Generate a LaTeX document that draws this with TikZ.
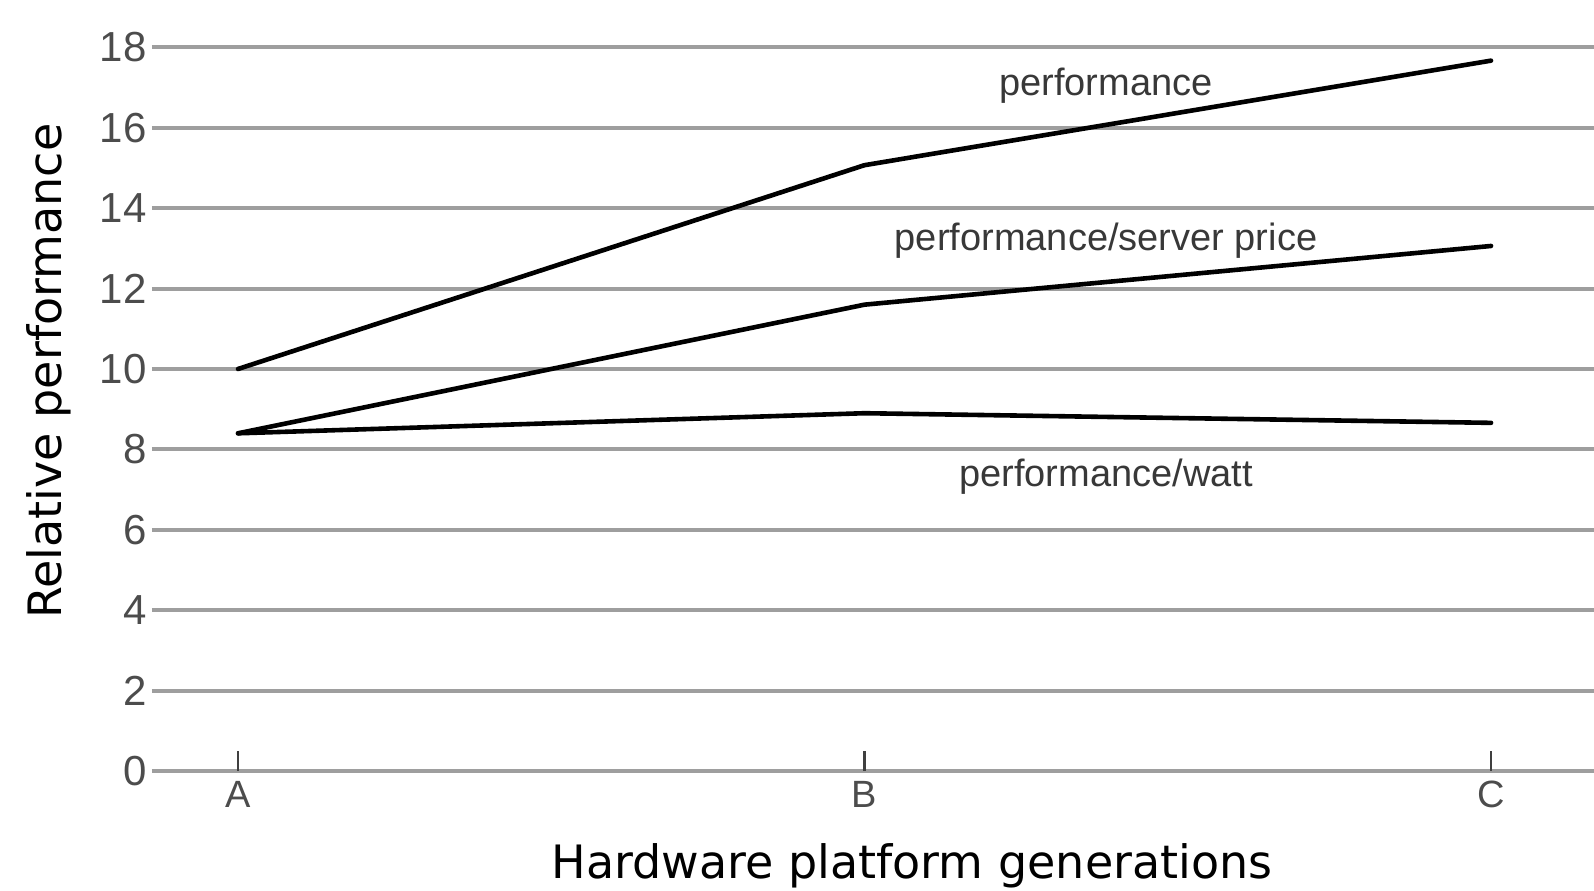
\documentclass[tikz,border=0pt]{standalone}
\usepackage{fontspec}
\setmainfont{Liberation Sans}
\newfontfamily\achsenfont{DejaVu Sans}
\usetikzlibrary{positioning}

\begin{document}
\begin{tikzpicture}[x=313.25pt,y=20.1pt,
  gitter/.style={line width=2pt,black!38},
  kurve/.style={line width=2.3pt,black,line join=round,line cap=round},
  zahl/.style={font=\fontsize{21}{21}\selectfont,text=black!70,inner sep=0pt},
  strich/.style={line width=1.2pt,black!75},
  beschr/.style={font=\fontsize{19}{19}\selectfont,text=black!78,inner sep=0pt},
  titel/.style={font=\achsenfont\fontsize{23}{23}\selectfont,inner sep=0pt}]
%Rand wie im Original
  \useasboundingbox (-0.3799,-2.985) rectangle (2.1644,19.179);
  \pgfmathsetmacro{\links}{-0.1373}
  \pgfmathsetmacro{\rechts}{2.1644}
%Gitter mit Zahlen
\foreach \v in {0,2,...,18}{
  \draw[gitter] (\links,\v) -- (\rechts,\v);
  \node[zahl,anchor=east] (y\v) at (-0.1452,\v) {\v};
}
\foreach \g/\i in {A/0,B/1,C/2}{
  \draw[strich] (\i,0) -- (\i,0.5);
  \node[zahl,font=\fontsize{19}{19}\selectfont,anchor=north] (x\g) at (\i,-0.25) {\g};
}
%Messwerte
\coordinate (perfA) at (0,10);
\coordinate (perfB) at (1,15.07);
\coordinate (perfC) at (2,17.67);
\coordinate (preisA) at (0,8.4);
\coordinate (preisB) at (1,11.6);
\coordinate (preisC) at (2,13.06);
\coordinate (wattA) at (0,8.4);
\coordinate (wattB) at (1,8.9);
\coordinate (wattC) at (2,8.66);
\draw[kurve] (perfA) -- (perfB) -- (perfC);
\draw[kurve] (preisA) -- (preisB) -- (preisC);
\draw[kurve] (wattA) -- (wattB) -- (wattC);
\node[beschr] (lperf) at (1.3855,17.05) {performance};
\node[beschr] (lpreis) at (1.3855,13.18) {performance/server price};
\node[beschr] (lwatt) at (1.3855,7.31) {performance/watt};
\node[titel,rotate=90] (ytitel) at (-0.3017,9.95) {Relative performance};
\node[titel] (xtitel) at (1.0758,-2.363) {Hardware platform generations};
\end{tikzpicture}
\end{document}
